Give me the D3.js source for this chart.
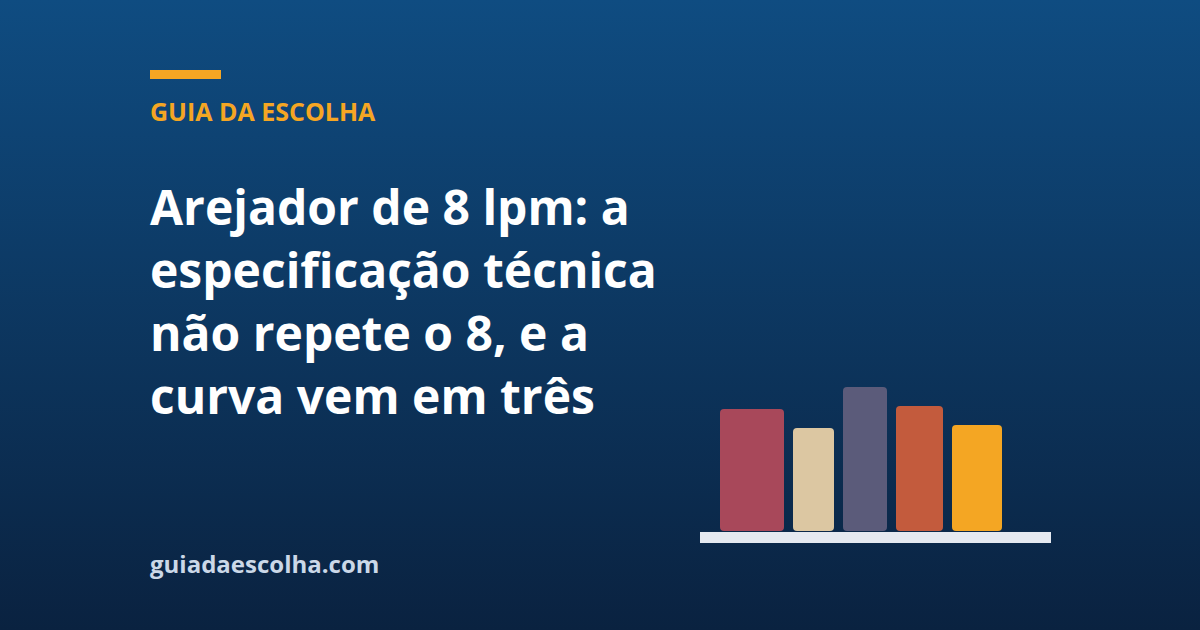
<!DOCTYPE html>
<html>
<head>
<meta charset="utf-8">
<script src="https://cdn.jsdelivr.net/npm/d3@7"></script>
<style>
  html, body { margin: 0; padding: 0; background: #0a2340; }
  svg { display: block; }
</style>
</head>
<body>
<div id="wrapper"></div>
<script>
const kicker = "GUIA DA ESCOLHA";
const titleLines = [
  "Arejador de 8 lpm: a",
  "especificação técnica",
  "não repete o 8, e a",
  "curva vem em três",
];
const footer = "guiadaescolha.com";

// decorative bars: height values and relative widths
const barNames = ["a", "b", "c", "d", "e"];
const barValues = [122, 103, 144, 125, 106];
const barWeights = [64, 41, 44, 47, 50];
const barColors = ["#a8485a", "#dcc7a2", "#5b5b7a", "#c35b3d", "#f4a623"];

const drawCard = () => {
  const dimensions = { width: 1200, height: 630 };

  const wrapper = d3
    .select("#wrapper")
    .append("svg")
    .attr("width", dimensions.width)
    .attr("height", dimensions.height);

  const grad = wrapper
    .append("defs")
    .append("linearGradient")
    .attr("id", "bg")
    .attr("x1", 0).attr("y1", 0)
    .attr("x2", 0).attr("y2", 1);
  grad.append("stop").attr("offset", "0%").attr("stop-color", "#0f4c81");
  grad.append("stop").attr("offset", "100%").attr("stop-color", "#0a2240");

  wrapper
    .append("rect")
    .attr("width", dimensions.width)
    .attr("height", dimensions.height)
    .attr("fill", "url(#bg)");

  const font = "'Open Sans', 'Noto Sans', sans-serif";

  wrapper
    .append("rect")
    .attr("x", 150).attr("y", 70)
    .attr("width", 71).attr("height", 9)
    .attr("fill", "#f5a623");

  wrapper
    .append("text")
    .attr("x", 150).attr("y", 121)
    .attr("fill", "#f5a623")
    .style("font-family", font)
    .style("font-weight", 700)
    .style("font-size", "25px")
    .text(kicker);

  wrapper
    .append("g")
    .selectAll("text")
    .data(titleLines)
    .join("text")
    .attr("x", 150)
    .attr("y", (d, i) => 225 + i * 63)
    .attr("fill", "#ffffff")
    .style("font-family", font)
    .style("font-weight", 700)
    .style("font-size", "48px")
    .text((d) => d);

  wrapper
    .append("text")
    .attr("x", 150).attr("y", 573)
    .attr("fill", "#cbd8e8")
    .style("font-family", font)
    .style("font-weight", 700)
    .style("font-size", "24px")
    .text(footer);

  // bar chart
  const chart = { left: 720, right: 1002, bottom: 531, top: 387, gap: 9 };
  const totalWeight = d3.sum(barWeights);
  const wScale = d3
    .scaleLinear()
    .domain([0, totalWeight])
    .range([0, chart.right - chart.left - chart.gap * (barWeights.length - 1)]);
  const offsets = d3.cumsum([0, ...barWeights]);

  const yScale = d3
    .scaleLinear()
    .domain([0, d3.max(barValues)])
    .range([chart.bottom, chart.top]);

  const bars = barNames.map((name, i) => ({
    name,
    value: barValues[i],
    x: chart.left + wScale(offsets[i]) + chart.gap * i,
    w: wScale(barWeights[i]),
    color: barColors[i],
  }));

  const bounds = wrapper.append("g");

  bounds
    .selectAll("rect.bar")
    .data(bars)
    .join("rect")
    .attr("class", "bar")
    .attr("x", (d) => d.x)
    .attr("y", (d) => yScale(d.value))
    .attr("width", (d) => d.w)
    .attr("height", (d) => chart.bottom - yScale(d.value))
    .attr("rx", 4)
    .attr("fill", (d) => d.color);

  bounds
    .append("rect")
    .attr("x", 700)
    .attr("y", chart.bottom + 1)
    .attr("width", 351)
    .attr("height", 11)
    .attr("fill", "#e5e9f0");
};

drawCard();
</script>
</body>
</html>
